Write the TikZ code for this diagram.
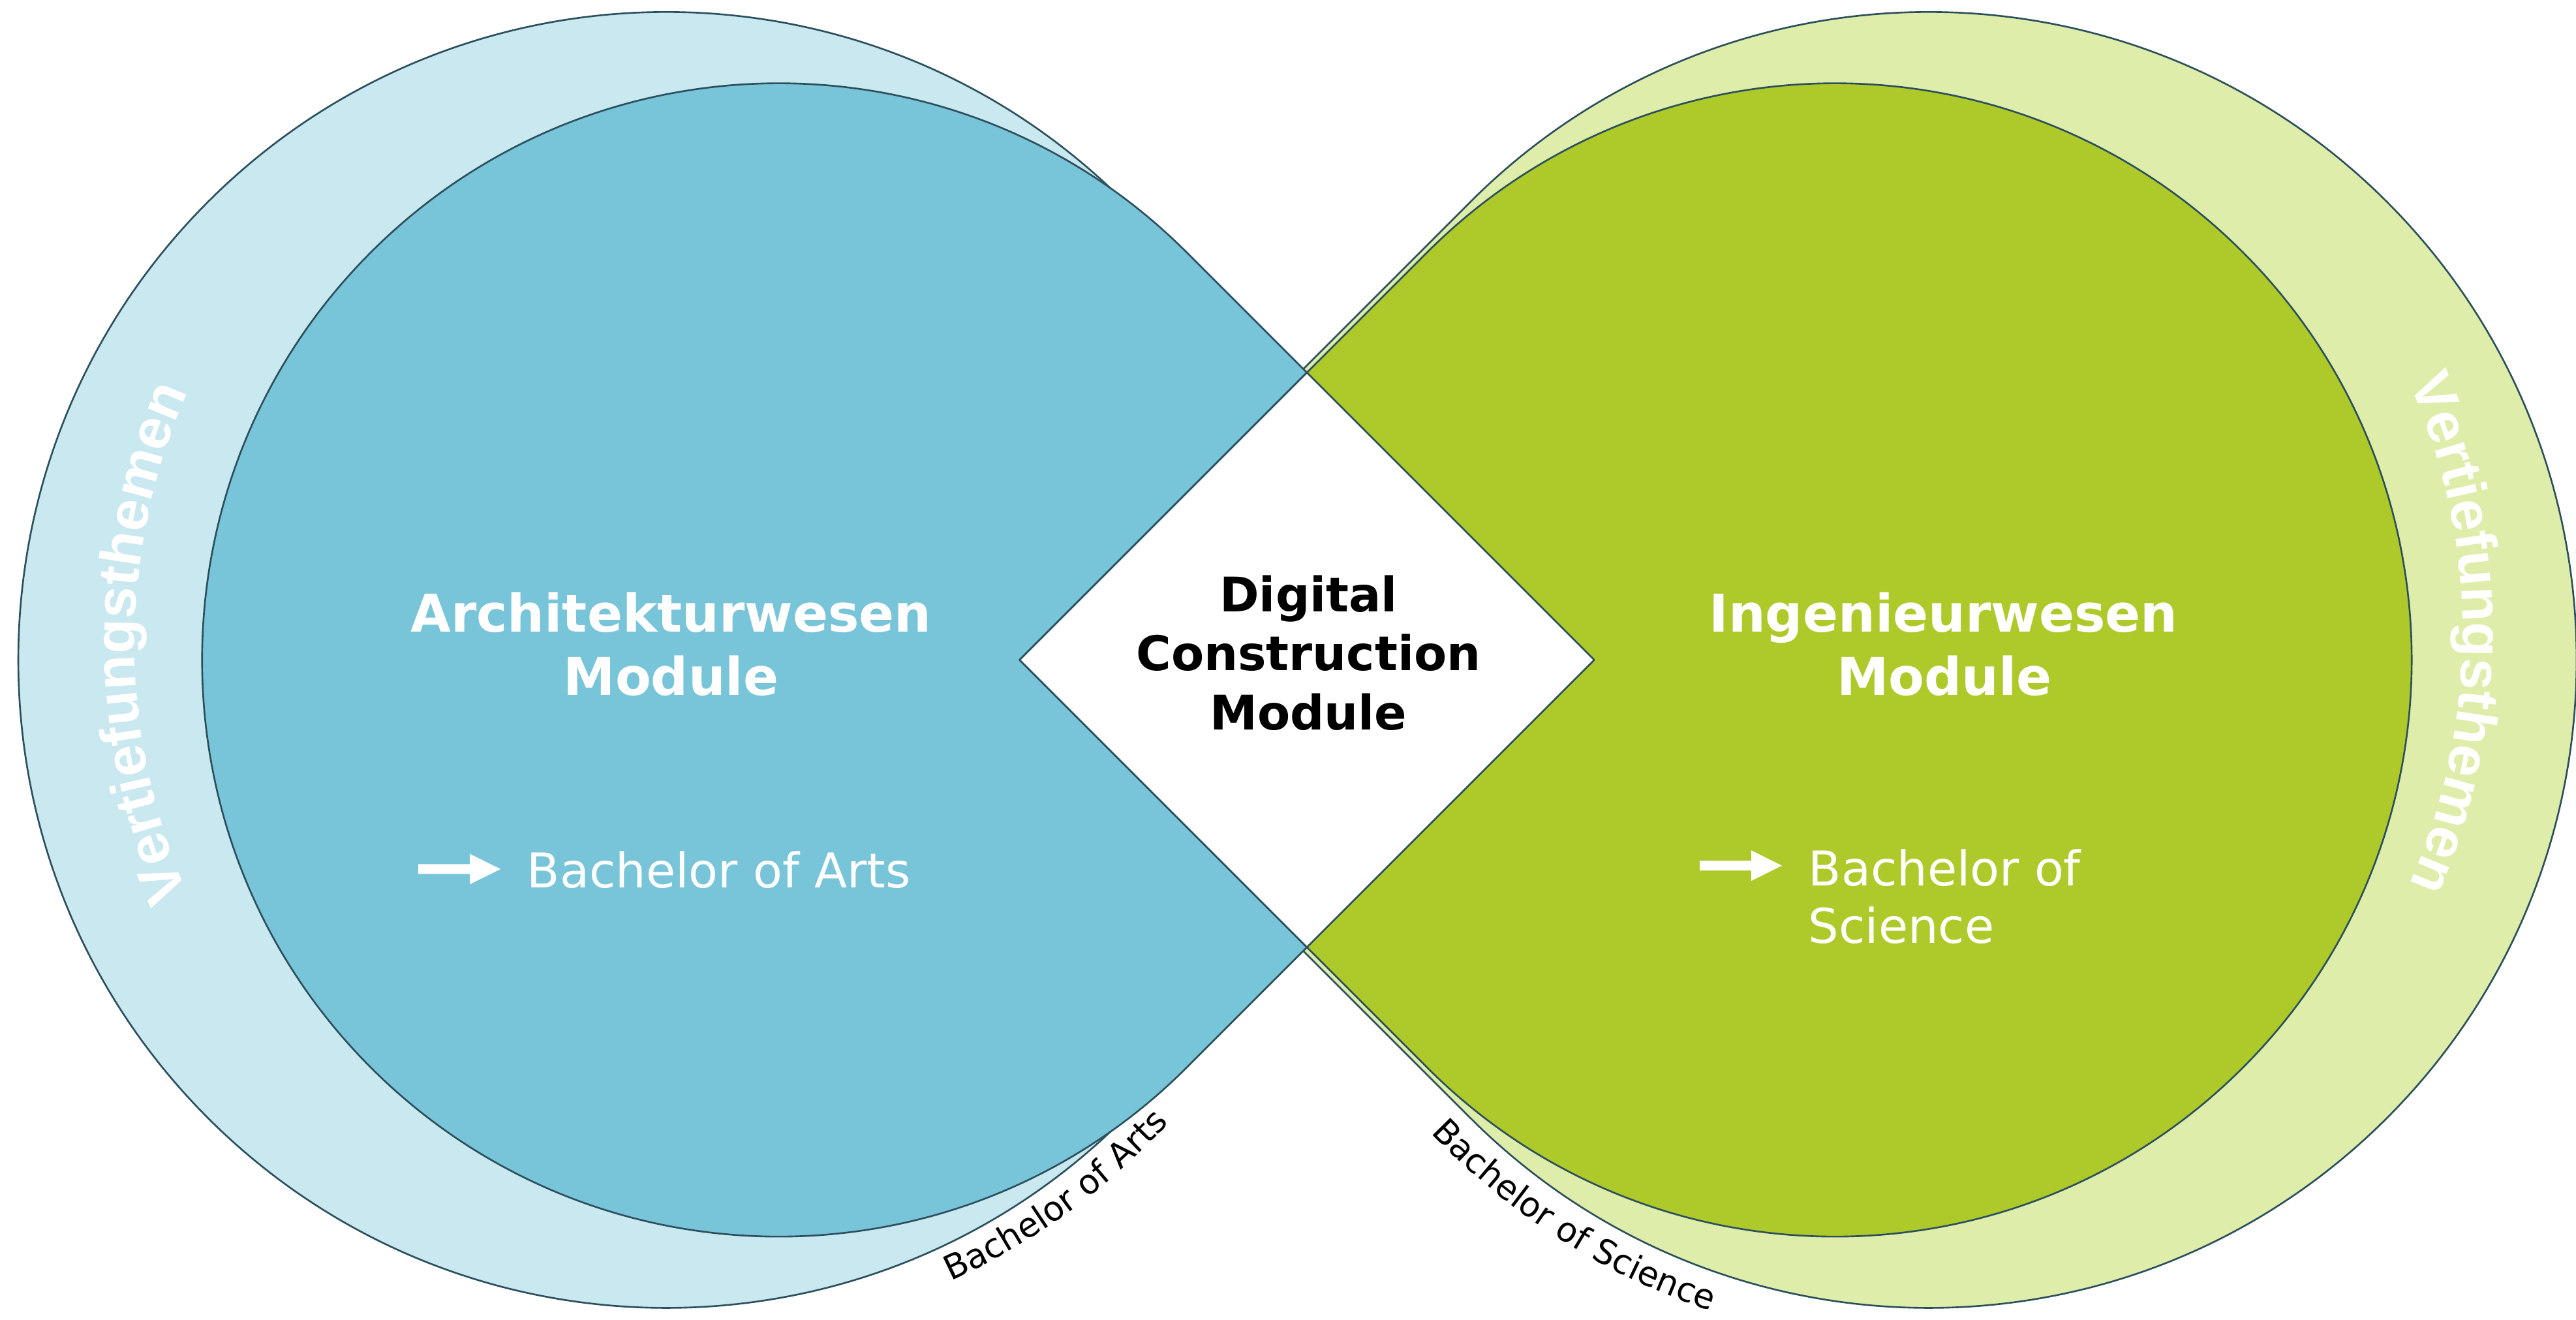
\documentclass[tikz,border=0pt]{standalone}
\usepackage{fontspec}
\setmainfont{DejaVu Sans}
\newfontfamily\libsans{Liberation Sans}
\usetikzlibrary{calc,decorations.text}
\definecolor{lblue}{HTML}{C9E8F0}
\definecolor{mblue}{HTML}{78C4D8}
\definecolor{lgreen}{HTML}{DFEDAA}
\definecolor{mgreen}{HTML}{AECA2A}
\definecolor{edgecol}{HTML}{2B4F5C}
\newcommand\vtfont{\libsans\bfseries\fontsize{24.9pt}{30pt}\selectfont}
\newcommand\labfont{\fontsize{14.8pt}{17pt}\selectfont}
\begin{document}
\begin{tikzpicture}[x=0.2518mm, y=0.2518mm,
  blob/.style={draw=edgecol, line width=0.75pt, line join=round},
  titletext/.style={text=white, font=\bfseries\fontsize{22.7pt}{27pt}\selectfont, inner sep=0pt, anchor=base},
  dctext/.style={text=black, font=\bfseries\fontsize{20.8pt}{25pt}\selectfont, inner sep=0pt, anchor=base},
  degreetext/.style={text=white, font=\fontsize{20.9pt}{25pt}\selectfont, inner sep=0pt, anchor=base west},
  arrowfill/.style={fill=white}]
\useasboundingbox (0,0) rectangle (1568,803.4);
% centres
\coordinate (ob) at (405.5,401.7);
\coordinate (og) at (1174,401.7);
\coordinate (vl) at (457,411.9);
\coordinate (vr) at (1124,417.9);
% outer teardrops
\path[blob, fill=lblue] (963.3,401.7) -- ++(135:394.4) arc[start angle=45, end angle=315, radius=394.4] -- cycle;
\path[blob, fill=lgreen] (616.2,401.7) -- ++(45:394.4) arc[start angle=135, end angle=-135, radius=394.4] -- cycle;
% inner teardrops
\path[blob, fill=mblue] (970.4,401.7) -- ++(135:351) arc[start angle=45, end angle=315, radius=351] -- cycle;
\path[blob, fill=mgreen] (620.6,401.7) -- ++(45:351) arc[start angle=135, end angle=-135, radius=351] -- cycle;
% diamond
\path[blob, fill=white] (620.6,401.7) -- (795.5,576.6) -- (970.4,401.7) -- (795.5,226.8) -- cycle;
% titles
\node[titletext] (archA) at (408.5,418.6) {Architekturwesen};
\node[titletext] (archB) at (408.5,380.4) {Module};
\node[titletext] (ingA) at (1183,418.6) {Ingenieurwesen};
\node[titletext] (ingB) at (1183.5,380.4) {Module};
\node[dctext] (dcA) at (796.5,431) {Digital};
\node[dctext] (dcB) at (796.5,395.4) {Construction};
\node[dctext] (dcC) at (796.5,359.3) {Module};
% degrees
\node[degreetext] (ba) at (320.5,262.9) {Bachelor of Arts};
\node[degreetext] (bsA) at (1100.5,264.4) {Bachelor of};
\node[degreetext] (bsB) at (1100.5,229.1) {Science};
% block arrows
\path[arrowfill] (254.6,271.4) -- (286,271.4) -- (286,265.15) -- (304.7,274.4) -- (286,283.65) -- (286,277.4) -- (254.6,277.4) -- cycle;
\path[arrowfill] (1034.6,273.5) -- (1066,273.5) -- (1066,267.2) -- (1084.6,276.5) -- (1066,285.8) -- (1066,279.5) -- (1034.6,279.5) -- cycle;
% curved texts
\path[decorate, decoration={text along path, text={|\vtfont|Vertiefungsthemen}, text color=white, text align=center}]
  ($(vl)+(210:375)$) arc[start angle=210, end angle=150, radius=375];
\path[decorate, decoration={text along path, text={|\vtfont|Vertiefungsthemen}, text color=white, text align=center}]
  ($(vr)+(30:375)$) arc[start angle=30, end angle=-30, radius=375];
\path[decorate, decoration={text along path, text={|\labfont|Bachelor of Arts}, text color=black, text align=center}]
  ($(ob)+(285:416)$) arc[start angle=285, end angle=327, radius=416];
\path[decorate, decoration={text along path, text={|\labfont|Bachelor of Science}, text color=black, text align=center}]
  ($(og)+(215:418)$) arc[start angle=215, end angle=260, radius=418];
\end{tikzpicture}
\end{document}
